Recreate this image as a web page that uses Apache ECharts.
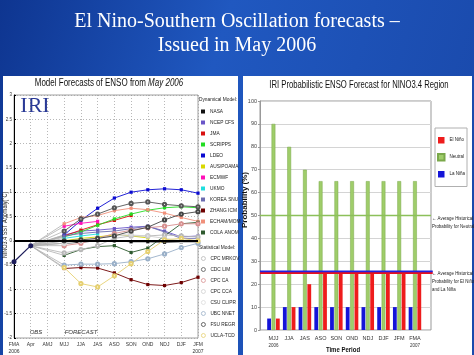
<!DOCTYPE html>
<html><head><meta charset="utf-8">
<script src="https://cdn.jsdelivr.net/npm/echarts@6/dist/echarts.min.js"></script>
<style>html,body{margin:0;padding:0;background:#1a4db5}#c{width:474px;height:355px}</style>
</head><body><div id="c"></div><script>
// ---------- Left chart data ----------
const leftCats = ['FMA','Apr','AMJ','MJJ','JJA','JAS','ASO','SON','OND','NDJ','DJF','JFM'];
const observed = [-0.43, -0.1];
// forecasts MJJ..JFM
const nasa     = [-0.05, -0.03, 0.0, 0.0, -0.02, -0.02, -0.03, -0.02, -0.02];
const ncepCfs  = [0.12, 0.2, 0.22, 0.25, 0.28, 0.3, 0.2, 0.08, 0.1];
const jma      = [0.1, 0.22, 0.33, 0.42, 0.52, null, null, null, null];
const scripps  = [0.08, 0.18, 0.32, 0.45, 0.55, 0.63, 0.68, 0.7, 0.68];
const ldeo     = [0.12, 0.42, 0.67, 0.88, 1.0, 1.05, 1.07, 1.05, 0.98];
const ausPoama = [0.0, 0.05, 0.08, 0.12, 0.1, 0.06, null, null, null];
const ecmwf    = [0.3, 0.36, 0.4, null, null, null, null, null, null];
const ukmo     = [0.05, 0.1, 0.14, null, null, null, null, null, null];
const koreaSnu = [0.1, 0.15, 0.18, 0.2, 0.25, 0.3, 0.18, 0.05, 0.05];
const zhangIcm = [-0.57, -0.55, -0.56, -0.66, -0.8, -0.9, -0.92, -0.86, -0.75];
const echamMom = [0.35, 0.48, 0.52, 0.62, 0.67, 0.64, 0.57, 0.48, 0.4];
const colaAnom = [-0.3, -0.18, -0.12, -0.1, -0.24, -0.15, 0.1, 0.35, 0.38];
const cpcMrkov = [-0.25, -0.18, -0.1, 0.05, 0.1, 0.1, 0.12, 0.1, 0.08];
const cdcLim   = [0.2, 0.45, 0.55, 0.68, 0.77, 0.8, 0.75, 0.72, 0.7];
const cpcCa    = [-0.1, -0.05, 0.05, 0.15, 0.22, 0.27, 0.3, 0.35, 0.35];
const cpcCca   = [-0.05, 0.0, 0.05, 0.1, 0.12, 0.1, 0.05, 0.0, -0.02];
const csuClipr = [-0.05, 0.0, 0.05, 0.1, 0.15, null, null, null, null];
const ubcNnet  = [-0.5, -0.48, -0.48, -0.47, -0.43, -0.37, -0.27, -0.14, -0.05];
const fsuRegr  = [0.0, 0.02, 0.05, 0.1, 0.2, 0.28, 0.43, 0.55, 0.6];
const uclaTcd  = [-0.55, -0.88, -0.95, -0.72, -0.47, -0.22, 0.02, 0.05, 0.0];

const dynNames  = ['NASA','NCEP CFS','JMA','SCRIPPS','LDEO','AUS/POAMA','ECMWF','UKMO','KOREA SNU','ZHANG ICM','ECHAM/MOM','COLA ANOM'];
const dynValues = [nasa,ncepCfs,jma,scripps,ldeo,ausPoama,ecmwf,ukmo,koreaSnu,zhangIcm,echamMom,colaAnom];
const statNames  = ['CPC MRKOV','CDC LIM','CPC CA','CPC CCA','CSU CLIPR','UBC NNET','FSU REGR','UCLA-TCD'];
const statValues = [cpcMrkov,cdcLim,cpcCa,cpcCca,csuClipr,ubcNnet,fsuRegr,uclaTcd];
const forecastStart = 3; // index of MJJ in leftCats

// ---------- Right chart data ----------
const rightCats = ['MJJ','JJA','JAS','ASO','SON','OND','NDJ','DJF','JFM','FMA'];
const laNina  = [5,10,10,10,10,10,10,10,10,10];
const neutral = [90,80,70,65,65,65,65,65,65,65];
const elNino  = [5,10,20,25,25,25,25,25,25,25];
const histNeutral = 50;
const histElNino = 25;
const histLaNina = 25.6;

// ---------- styles ----------
const dynColors  = ['#111111','#6a55c8','#d81010','#22dd22','#0a0ad0','#d8d800','#ff10b8','#20dede','#6c6cb0','#6e0000','#f0907a','#2e5a2e'];
const statColors = ['#b8b8b8','#555555','#d89090','#d0d0d0','#dcdcdc','#9ab0c8','#444444','#e6d070'];
const SANS = '"Liberation Sans",Arial,sans-serif';

function pad(arr){ const out = leftCats.map(()=>null); arr.forEach((v,i)=>{ out[forecastStart+i]=v; }); return out; }
function fan(arr){ const out = leftCats.map(()=>null); out[1]=observed[1]; out[forecastStart]=arr[0]; return out; }

const series = [];
dynValues.concat(statValues).forEach(v=>{
  series.push({type:'line', xAxisIndex:0, yAxisIndex:0, data:fan(v), connectNulls:true, symbol:'none', silent:true,
    lineStyle:{color:'#b0b0b0', width:0.8}, z:1});
});
dynNames.forEach((n,i)=>{
  series.push({type:'line', name:n, xAxisIndex:0, yAxisIndex:0, data:pad(dynValues[i]), symbol:'rect', symbolSize:3.2,
    itemStyle:{color:dynColors[i]}, lineStyle:{color:dynColors[i], width:0.9}, z:3});
});
statNames.forEach((n,i)=>{
  series.push({type:'line', name:n, xAxisIndex:0, yAxisIndex:0, data:pad(statValues[i]), symbol:'emptyCircle', symbolSize:3.2,
    itemStyle:{color:statColors[i], borderColor:statColors[i], borderWidth:0.8}, lineStyle:{color:statColors[i], width:0.9}, z:3});
});
series.push({type:'line', name:'Observed', xAxisIndex:0, yAxisIndex:0, data:observed, symbol:'circle', symbolSize:5,
  itemStyle:{color:'#1c1c5a'}, lineStyle:{color:'#1c1c5a', width:1.2}, z:4,
  markLine:{silent:true, symbol:'none', label:{show:false}, lineStyle:{color:'#000', width:2, type:'solid'}, data:[{yAxis:0}]}});

series.push({type:'bar', name:'La Niña', xAxisIndex:2, yAxisIndex:2, data:laNina, barWidth:3.8, barGap:'15%', itemStyle:{color:'#1414d8'}});
series.push({type:'bar', name:'Neutral', xAxisIndex:2, yAxisIndex:2, data:neutral, barWidth:3.8, barGap:'15%', itemStyle:{color:'#9fcd6a', borderColor:'#7aa84a', borderWidth:0.5}});
series.push({type:'bar', name:'El Niño', xAxisIndex:2, yAxisIndex:2, data:elNino, barWidth:3.8, barGap:'15%', itemStyle:{color:'#ee1c1c'}});
series.push({type:'line', xAxisIndex:1, yAxisIndex:1, data:[[0,histNeutral],[1,histNeutral]], symbol:'none', silent:true, lineStyle:{color:'#8cc05a', width:1.6}, z:5});
series.push({type:'line', xAxisIndex:1, yAxisIndex:1, data:[[0,histElNino],[1.01,histElNino]], symbol:'none', silent:true, lineStyle:{color:'#e8101e', width:2.6}, z:5});
series.push({type:'line', xAxisIndex:1, yAxisIndex:1, data:[[0,histLaNina],[1.01,histLaNina]], symbol:'none', silent:true, lineStyle:{color:'#2020e0', width:1.6}, z:6});

const legendText = {fontSize:4.8, lineHeight:7, color:'#222', fontFamily:SANS};
const option = {
  animation:false,
  backgroundColor:{type:'linear', x:0, y:0, x2:1, y2:0.4, colorStops:[{offset:0,color:'#0e3590'},{offset:0.45,color:'#2058c0'},{offset:1,color:'#1a4aac'}]},
  textStyle:{fontFamily:SANS},
  graphic:[
    {type:'rect', shape:{x:3, y:76, width:235, height:279}, style:{fill:'#ffffff'}, z:-10},
    {type:'rect', shape:{x:243, y:76, width:229, height:279}, style:{fill:'#ffffff'}, z:-10},
    {type:'text', x:237, y:22, style:{text:'El Nino-Southern Oscillation forecasts –', fill:'#ffffff', font:'20px "Liberation Serif","Times New Roman",serif', align:'center', verticalAlign:'middle'}},
    {type:'text', x:237, y:46, style:{text:'Issued in May 2006', fill:'#ffffff', font:'20px "Liberation Serif","Times New Roman",serif', align:'center', verticalAlign:'middle'}},
    {type:'text', x:109, y:83, scaleX:0.8, style:{text:'{a|Model Forecasts of ENSO from }{b|May 2006}', align:'center', verticalAlign:'middle',
      rich:{a:{fontSize:10, fontFamily:SANS, fill:'#111'}, b:{fontSize:10, fontStyle:'italic', fontFamily:SANS, fill:'#111'}}}},
    {type:'text', x:35, y:106, style:{text:'IRI', fill:'#2a3a96', font:'22px "Liberation Serif","Times New Roman",serif', align:'center', verticalAlign:'middle'}},
    {type:'text', x:5, y:225, rotation:Math.PI/2, scaleX:0.85, style:{text:'NINO3.4 SST Anomaly(°C)', fill:'#222', font:'6.5px "Liberation Sans",Arial', align:'center', verticalAlign:'middle'}},
    {type:'text', x:36, y:332, style:{text:'OBS', fill:'#333', font:'italic 6px "Liberation Sans",Arial', align:'center', verticalAlign:'middle'}},
    {type:'text', x:81, y:332, style:{text:'FORECAST', fill:'#333', font:'italic 6px "Liberation Sans",Arial', align:'center', verticalAlign:'middle'}},
    {type:'text', x:199, y:100, style:{text:'Dynamical Model:', fill:'#222', font:'4.8px "Liberation Sans",Arial', verticalAlign:'middle'}},
    {type:'text', x:199, y:248, style:{text:'Statistical Model:', fill:'#222', font:'4.8px "Liberation Sans",Arial', verticalAlign:'middle'}},
    {type:'text', x:359, y:85, scaleX:0.7, style:{text:'IRI Probabilistic ENSO Forecast for NINO3.4 Region', fill:'#111', font:'11px "Liberation Sans",Arial', align:'center', verticalAlign:'middle'}},
    {type:'text', x:245, y:200, rotation:Math.PI/2, style:{text:'Probability (%)', fill:'#111', font:'bold 8px "Liberation Sans",Arial', align:'center', verticalAlign:'middle'}},
    {type:'text', x:343, y:350, scaleX:0.75, style:{text:'Time Period', fill:'#111', font:'bold 8px "Liberation Sans",Arial', align:'center', verticalAlign:'middle'}},
    {type:'text', x:432, y:214, scaleX:0.8, style:{text:'← Average Historical\nProbability for Neutral', fill:'#222', font:'5.5px "Liberation Sans",Arial', lineHeight:8, verticalAlign:'top'}},
    {type:'text', x:432, y:269, scaleX:0.8, style:{text:'← Average Historical\nProbability for El Niño\nand La Niña', fill:'#222', font:'5.5px "Liberation Sans",Arial', lineHeight:8, verticalAlign:'top'}}
  ],
  legend:[
    {orient:'vertical', left:201, top:108, padding:0, itemWidth:4, itemHeight:4, itemGap:4, textStyle:legendText, selectedMode:false,
      data:dynNames.map((n,i)=>({name:n, icon:'rect', itemStyle:{color:dynColors[i]}}))},
    {orient:'vertical', left:201, top:255, padding:0, itemWidth:4, itemHeight:4, itemGap:4, textStyle:legendText, selectedMode:false,
      data:statNames.map((n,i)=>({name:n, icon:'circle', itemStyle:{color:'#fff', borderColor:statColors[i], borderWidth:0.8}}))},
    {orient:'vertical', left:435, top:128, padding:[9,2,9,2], itemWidth:6.5, itemHeight:6.5, itemGap:9.5, backgroundColor:'#fff', borderColor:'#b0b0b0', borderWidth:1,
      textStyle:{fontSize:4.5, color:'#222', fontFamily:SANS}, selectedMode:false,
      data:[{name:'El Niño', icon:'rect'},{name:'Neutral', icon:'rect'},{name:'La Niña', icon:'rect'}]}
  ],
  grid:[
    {left:14, top:95, width:184, height:245, show:true, borderColor:'#888', borderWidth:0.8, backgroundColor:'transparent'},
    {left:260, top:101, width:171, height:229, show:true, borderColor:'#999', borderWidth:1},
    {left:265.6, top:101, width:157.2, height:229}
  ],
  xAxis:[
    {type:'category', gridIndex:0, data:leftCats, boundaryGap:false,
      axisLine:{lineStyle:{color:'#000', width:1}}, axisTick:{show:false},
      axisLabel:{fontSize:5, color:'#333', margin:3, lineHeight:7, interval:0,
        formatter:(v,i)=> i===0 ? v+'\n2006' : (i===leftCats.length-1 ? v+'\n2007' : v)},
      splitLine:{show:true, lineStyle:{color:'#9a9a9a', type:[1,2], width:0.7}}},
    {type:'value', gridIndex:1, min:0, max:1, show:false},
    {type:'category', gridIndex:2, data:rightCats, axisLine:{show:false}, axisTick:{show:false},
      axisLabel:{fontSize:5.5, color:'#333', margin:5, lineHeight:7, interval:0,
        formatter:(v,i)=> i===0 ? v+'\n{y|2006}' : (i===rightCats.length-1 ? v+'\n{y|2007}' : v+'\n '),
        rich:{y:{fontSize:4.5, color:'#333'}}}}
  ],
  yAxis:[
    {type:'value', gridIndex:0, min:-2, max:3, interval:0.5,
      axisLine:{show:true, lineStyle:{color:'#000', width:1}}, axisTick:{show:true, length:2, inside:true, lineStyle:{color:'#000'}},
      axisLabel:{fontSize:4.5, color:'#333', margin:2}, splitLine:{show:true, lineStyle:{color:'#9a9a9a', type:[1,2], width:0.7}}},
    {type:'value', gridIndex:1, min:0, max:100, interval:10,
      axisLine:{show:true, lineStyle:{color:'#999'}}, axisTick:{show:true, length:2, lineStyle:{color:'#999'}},
      axisLabel:{fontSize:5.5, color:'#444', margin:3}, splitLine:{show:true, lineStyle:{color:'#d4d4d4', width:1}}},
    {type:'value', gridIndex:2, min:0, max:100, show:false}
  ],
  series:series
};
const chart = echarts.init(document.getElementById('c'), null, {renderer:'canvas'});
chart.setOption(option);
</script></body></html>
